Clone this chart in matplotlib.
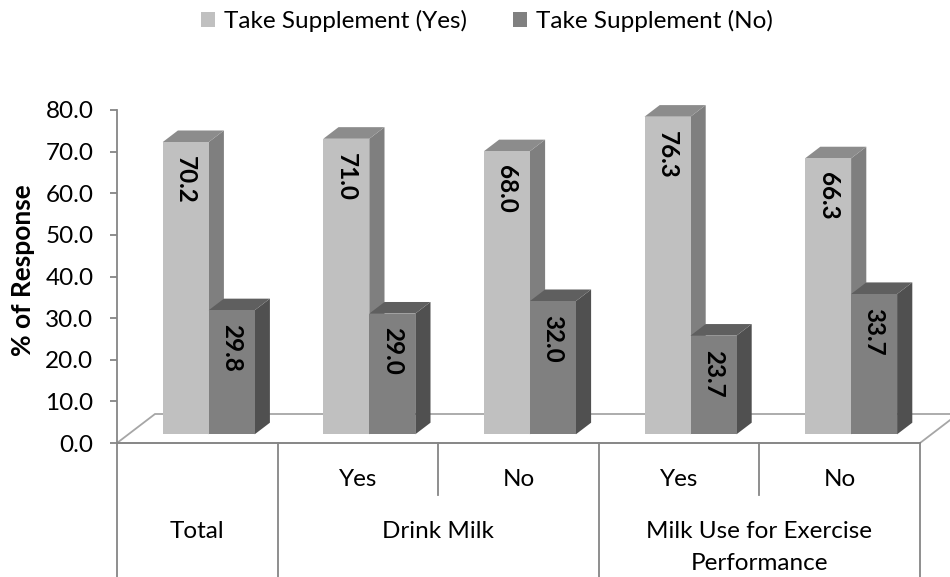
"""Supplement use by milk habits: Excel-style 3D column chart."""

import matplotlib.pyplot as plt
import numpy as np
from matplotlib.patches import Patch, Polygon, Rectangle

plt.rcParams["font.family"] = ["Lato", "DejaVu Sans"]

# data
sub_labels = ["", "Yes", "No", "Yes", "No"]
group_labels = ["Total", "Drink Milk", "Milk Use for Exercise\nPerformance"]
group_spans = [(0, 1), (1, 3), (3, 5)]
supp_yes = [70.2, 71.0, 68.0, 76.3, 66.3]
supp_no = [29.8, 29.0, 32.0, 23.7, 33.7]
series_names = ["Take Supplement (Yes)", "Take Supplement (No)"]
y_ticks = np.arange(0, 81, 10)

# face colours: front, side, top
YES_COLORS = ("#c0c0c0", "#7f7f7f", "#8c8c8c")
NO_COLORS = ("#808080", "#505050", "#5f5f5f")
AXIS_GRAY = "#868686"
FLOOR_GRAY = "#a6a6a6"
FS = 17.5

W, H = 950, 577
fig = plt.figure(figsize=(W / 100, H / 100), dpi=100)
ax = fig.add_axes([117 / W, 1 - 443 / H, (920 - 117) / W, (443 - 110) / H])
n = len(supp_yes)
ax.set_xlim(0, n)
ax.set_ylim(0, 80)

# pixel -> data helpers for the fake perspective
px_x = (920 - 117) / n
px_y = (443 - 110) / 80.0
DX, DY = 38 / px_x, 29 / px_y          # floor depth
BAR_W = 46 / px_x
FRONT, BACK = 0.3, 0.7                  # bar position inside the depth

for s in ["top", "right"]:
    ax.spines[s].set_visible(False)
ax.spines["left"].set_color(AXIS_GRAY)
ax.spines["bottom"].set_color(AXIS_GRAY)
ax.spines["left"].set_linewidth(1.3)
ax.spines["bottom"].set_linewidth(1.3)
ax.set_xticks([])
ax.set_yticks(y_ticks)
ax.set_yticklabels([f"{v:.1f}" for v in y_ticks], fontsize=FS)
ax.tick_params(axis="y", length=5, width=1.3, color=AXIS_GRAY, pad=12)
ax.patch.set_visible(False)

# floor
floor = Polygon([(0, 0), (n, 0), (n + DX, DY), (DX, DY)], closed=True,
                facecolor="white", edgecolor=FLOOR_GRAY, lw=1.3,
                clip_on=False, zorder=1)
ax.add_patch(floor)


def draw_bar(x0, value, colors):
    front, side, top = colors
    fx, fy = FRONT * DX, FRONT * DY
    ddx, ddy = (BACK - FRONT) * DX, (BACK - FRONT) * DY
    x0 = x0 + fx
    yb, yt = fy, fy + value
    ax.add_patch(Polygon([(x0 + BAR_W, yb), (x0 + BAR_W + ddx, yb + ddy),
                          (x0 + BAR_W + ddx, yt + ddy), (x0 + BAR_W, yt)],
                         closed=True, facecolor=side, edgecolor="none",
                         clip_on=False, zorder=2))
    ax.add_patch(Polygon([(x0, yt), (x0 + BAR_W, yt),
                          (x0 + BAR_W + ddx, yt + ddy), (x0 + ddx, yt + ddy)],
                         closed=True, facecolor=top, edgecolor="none",
                         clip_on=False, zorder=2))
    ax.add_patch(Rectangle((x0, yb), BAR_W, value, facecolor=front,
                           edgecolor="none", clip_on=False, zorder=2))
    ax.annotate(f"{value:.1f}", xy=(x0 + BAR_W / 2, yt), xytext=(0, -10),
                textcoords="offset points", rotation=-90, ha="center",
                va="top", fontsize=FS, fontweight="bold", zorder=3)


for i in range(n):
    c = i + 0.5
    draw_bar(c - BAR_W, supp_yes[i], YES_COLORS)
    draw_bar(c, supp_no[i], NO_COLORS)

# category table under the floor
bottom_y = -(H - 443) / px_y
short_y = -(495 - 443) / px_y
for x in range(n + 1):
    is_group_edge = any(x in span for span in group_spans)
    ax.plot([x, x], [0, bottom_y if is_group_edge else short_y],
            color=AXIS_GRAY, lw=1.3, clip_on=False)

for i, lab in enumerate(sub_labels):
    if lab:
        ax.text(i + 0.5, -(479 - 443) / px_y, lab, ha="center", va="center",
                fontsize=FS)

for lab, (a, b) in zip(group_labels, group_spans):
    for k, line in enumerate(lab.split("\n")):
        ax.text((a + b) / 2, -(531 + 32 * k - 443) / px_y, line,
                ha="center", va="center", fontsize=FS)

fig.text(23 / W, 1 - 270 / H, "% of Response", rotation=90, ha="center",
         va="center", fontsize=19, fontweight="bold")

handles = [Patch(facecolor=YES_COLORS[0]), Patch(facecolor=NO_COLORS[0])]
fig.legend(handles, series_names, loc="center", ncol=2,
           bbox_to_anchor=(487 / W, 1 - 21 / H), frameon=False, fontsize=FS,
           handlelength=0.58, handleheight=0.58, handletextpad=0.37,
           columnspacing=1.9, borderpad=0, borderaxespad=0)

fig.savefig("out.png", dpi=100)
